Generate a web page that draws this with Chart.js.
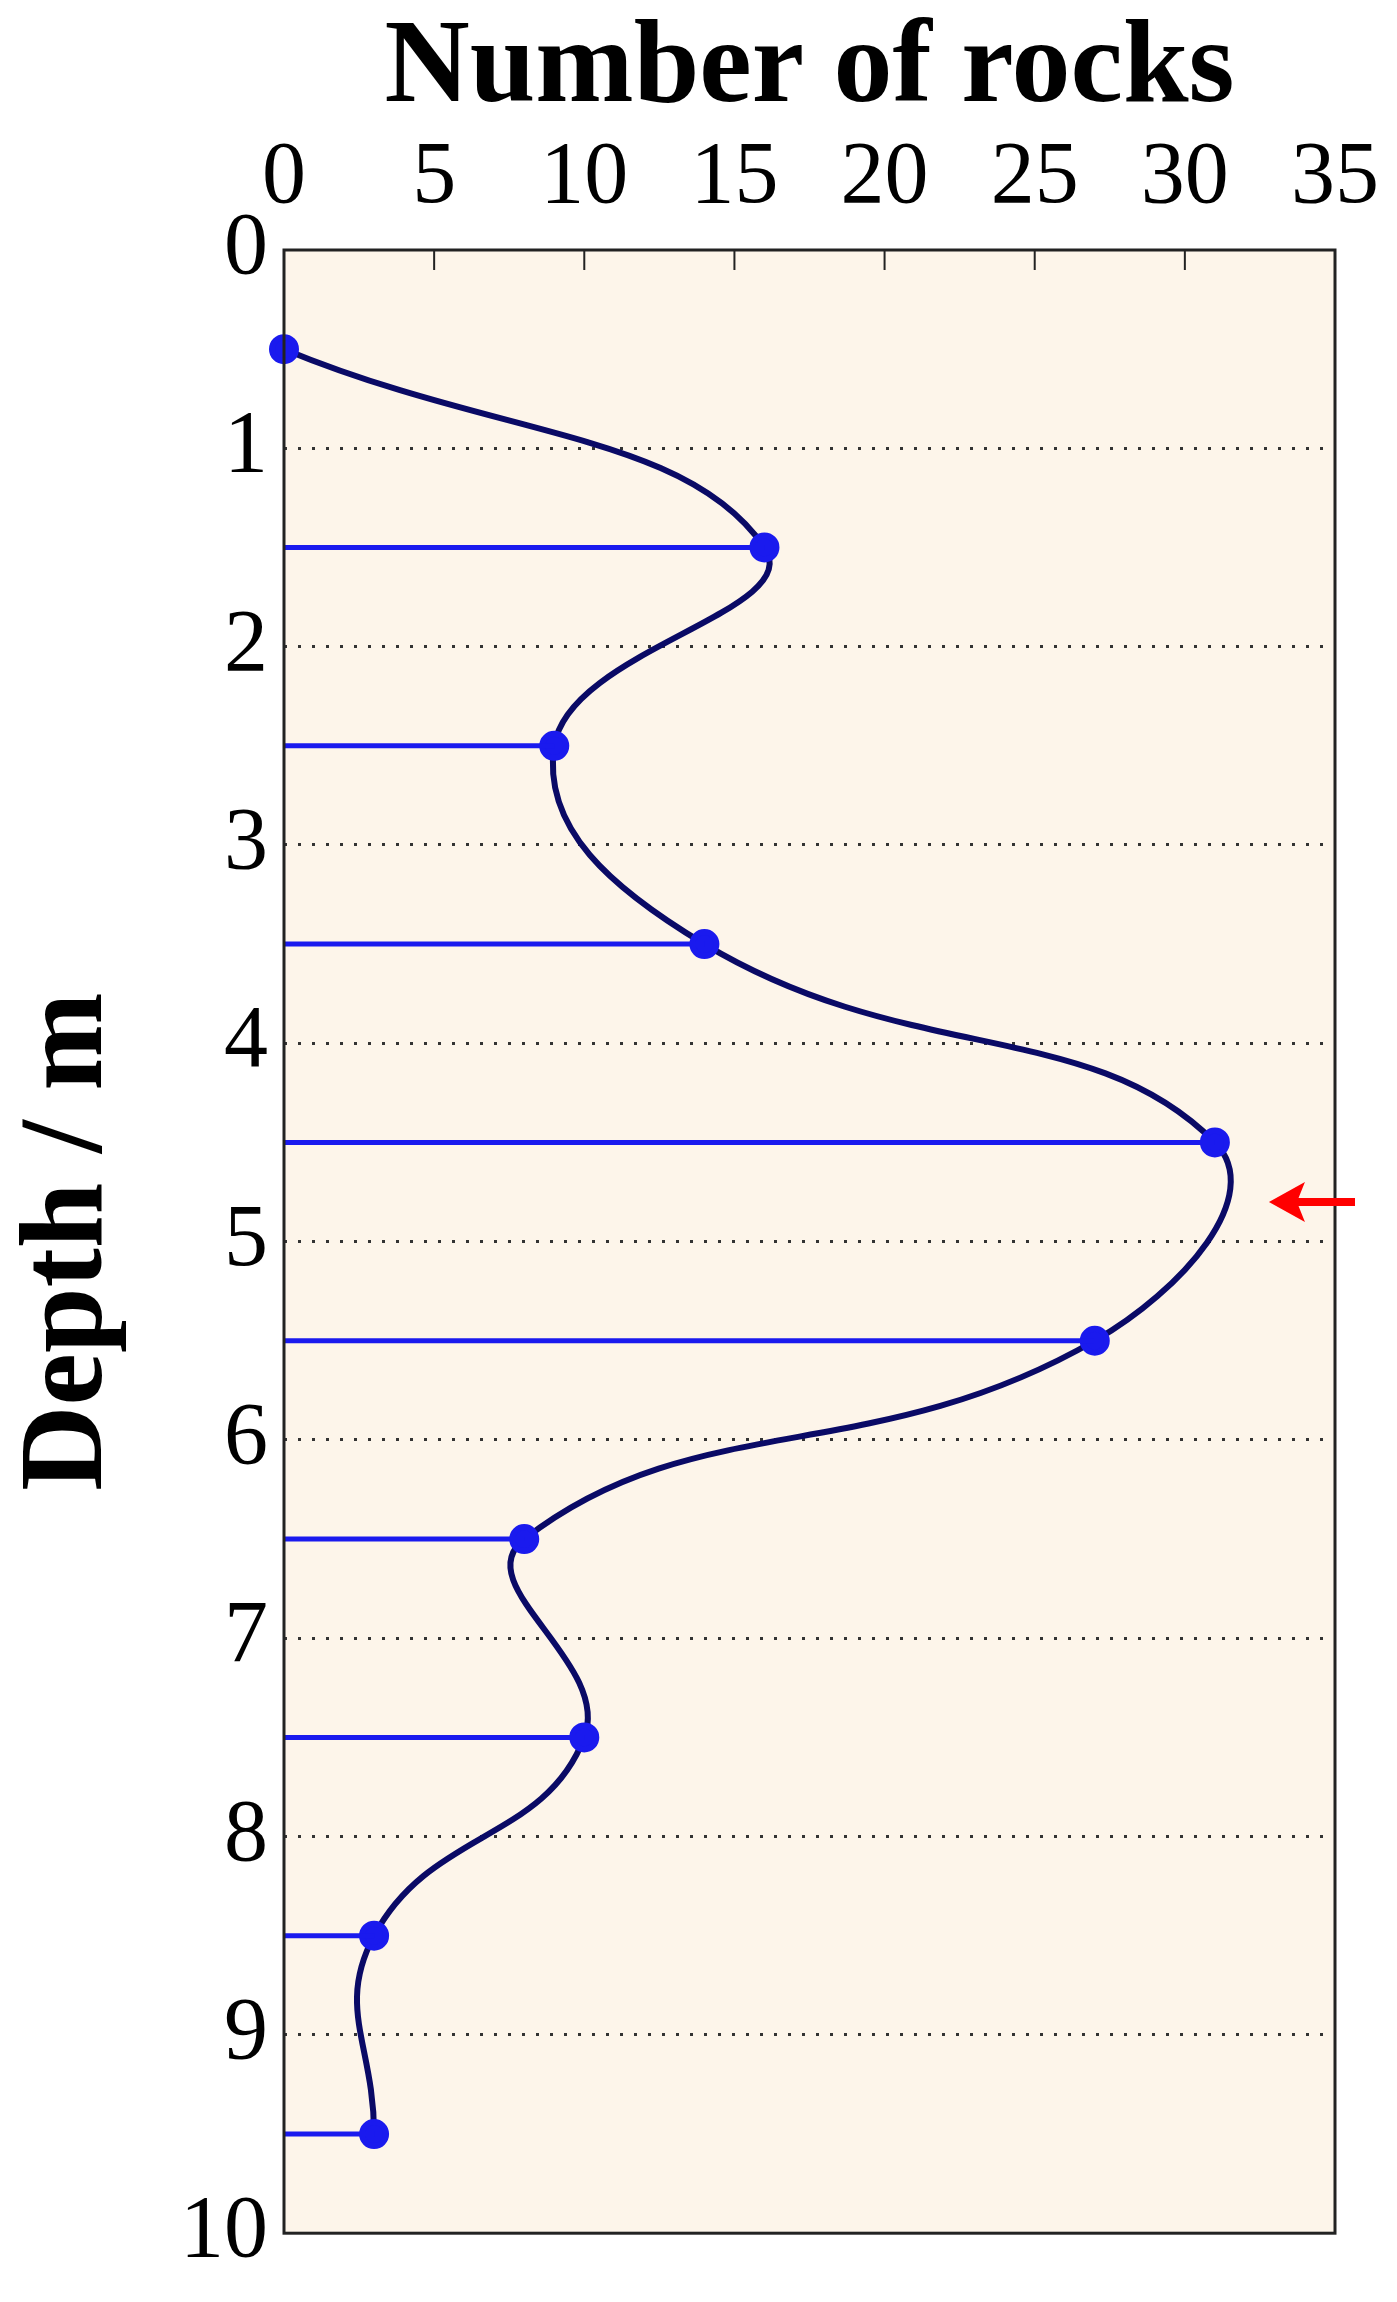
<!DOCTYPE html>
<html>
<head>
<meta charset="utf-8">
<script src="https://cdn.jsdelivr.net/npm/chart.js@4/dist/chart.umd.min.js"></script>
<style>
  html, body { margin: 0; padding: 0; background: #fff; }
  #wrap { width: 1397px; height: 2302px; }
</style>
</head>
<body>
<div id="wrap"><canvas id="rockChart"></canvas></div>
<script>
const depths = [0.5, 1.5, 2.5, 3.5, 4.5, 5.5, 6.5, 7.5, 8.5, 9.5];
const rockCounts = [0, 16, 9, 14, 31, 27, 8, 10, 3, 3];
const xTicks = [0, 5, 10, 15, 20, 25, 30, 35];
const yTicks = [0, 1, 2, 3, 4, 5, 6, 7, 8, 9, 10];
const arrowPoint = { x: 32.8, y: 4.8 };

const serif = '"Liberation Serif", "DejaVu Serif", serif';

// Plot background, frame, inner ticks + red arrow
const plotDecor = {
    id: 'plotDecor',
    beforeDraw(chart) {
        const { ctx, chartArea: a } = chart;
        ctx.save();
        ctx.fillStyle = '#fdf5ea';
        ctx.fillRect(a.left, a.top, a.right - a.left, a.bottom - a.top);
        ctx.restore();
    },
    afterDraw(chart) {
        const { ctx, scales, chartArea: a } = chart;
        ctx.save();
        ctx.strokeStyle = '#222';
        ctx.lineWidth = 3;
        ctx.strokeRect(a.left, a.top, a.right - a.left, a.bottom - a.top);
        ctx.lineWidth = 2;
        xTicks.slice(1, -1).forEach(v => {
            const px = scales.x.getPixelForValue(v);
            ctx.beginPath();
            ctx.moveTo(px, a.top);
            ctx.lineTo(px, a.top + 20);
            ctx.stroke();
        });
        const x0 = scales.x.getPixelForValue(arrowPoint.x);
        const x1 = scales.x.getPixelForValue(35) + 20;
        const y = scales.y.getPixelForValue(arrowPoint.y);
        ctx.strokeStyle = '#ff0000';
        ctx.fillStyle = '#ff0000';
        ctx.lineWidth = 8;
        ctx.beginPath();
        ctx.moveTo(x0 + 25, y);
        ctx.lineTo(x1, y);
        ctx.stroke();
        ctx.beginPath();
        ctx.moveTo(x0, y);
        ctx.lineTo(x0 + 36, y - 20);
        ctx.lineTo(x0 + 28, y);
        ctx.lineTo(x0 + 36, y + 20);
        ctx.closePath();
        ctx.fill();
        ctx.restore();
    }
};

const stems = depths
    .map((d, i) => ({ d, v: rockCounts[i] }))
    .filter(p => p.v > 0)
    .map(p => ({
        data: [{ x: 0, y: p.d }, { x: p.v, y: p.d }],
        showLine: true,
        borderColor: '#1a1aee',
        borderWidth: 5,
        pointRadius: 0,
        tension: 0
    }));

const curve = {
    data: depths.map((d, i) => ({ x: rockCounts[i], y: d })),
    showLine: true,
    borderColor: '#0a0a66',
    borderWidth: 6,
    tension: 0.45,
    pointRadius: 12,
    pointBackgroundColor: '#1a1aee',
    pointBorderColor: '#1a1aee',
    clip: false
};

new Chart(document.getElementById('rockChart'), {
    type: 'scatter',
    data: { datasets: [...stems, curve] },
    options: {
        responsive: true,
        maintainAspectRatio: false,
        animation: false,
        layout: { padding: { top: 0, right: 62, bottom: 52, left: 0 } },
        plugins: { legend: { display: false }, tooltip: { enabled: false } },
        scales: {
            x: {
                type: 'linear',
                position: 'top',
                min: 0, max: 35,
                afterBuildTicks: s => { s.ticks = xTicks.map(v => ({ value: v })); },
                afterFit: s => { s.height = 250; },
                grid: { display: false },
                border: { display: false },
                ticks: { color: '#000', padding: 10, maxRotation: 0, font: { family: serif, size: 88 } },
                title: {
                    display: true, text: 'Number of rocks', color: '#000',
                    padding: { top: 0, bottom: 36 },
                    font: { family: serif, size: 118, weight: 'bold' }
                }
            },
            y: {
                type: 'linear',
                reverse: true,
                min: 0, max: 10,
                afterBuildTicks: s => { s.ticks = yTicks.map(v => ({ value: v })); },
                afterFit: s => { s.width = 284; },
                grid: {
                    color: ctx => (ctx.tick.value === 0 || ctx.tick.value === 10) ? 'rgba(0,0,0,0)' : '#333',
                    lineWidth: 3,
                    drawTicks: false
                },
                border: { display: false, dash: [3, 11] },
                ticks: { color: '#000', padding: 16, font: { family: serif, size: 88 } },
                title: {
                    display: true, text: 'Depth / m', color: '#000',
                    padding: { top: 0, bottom: 10 },
                    font: { family: serif, size: 118, weight: 'bold' }
                }
            }
        }
    },
    plugins: [plotDecor]
});
</script>
</body>
</html>
